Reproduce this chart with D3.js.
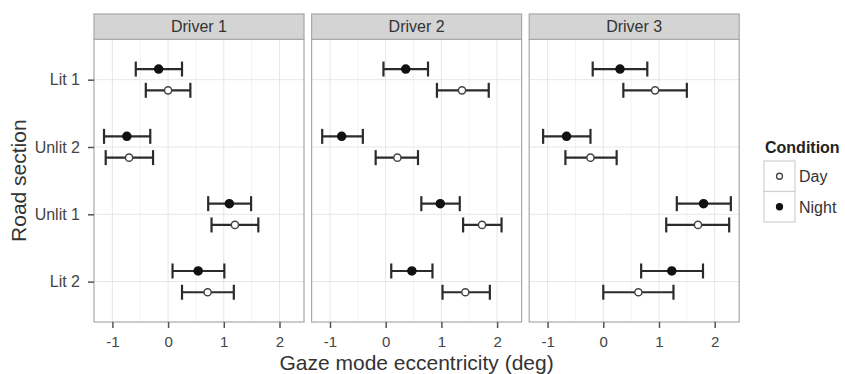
<!DOCTYPE html>
<html>
<head>
<meta charset="utf-8">
<script src="https://cdn.jsdelivr.net/npm/d3@7"></script>
<style>
  body { margin: 0; background: #fff; }
  text { font-family: "Liberation Sans", Arial, Helvetica, sans-serif; }
</style>
</head>
<body>
<svg id="chart" width="845" height="374"></svg>
<script>
// Facets, categories and legend
const drivers = ["Driver 1", "Driver 2", "Driver 3"];
const sections = ["Lit 1", "Unlit 2", "Unlit 1", "Lit 2"];
const conditions = ["Day", "Night"];
const xTicks = [-1, 0, 1, 2];

// Day values per driver, in section order
const dayMean = [[0.00, -0.70, 1.20, 0.71], [1.37, 0.21, 1.73, 1.43], [0.93, -0.23, 1.70, 0.63]];
const dayLow  = [[-0.40, -1.12, 0.78, 0.25], [0.92, -0.18, 1.39, 1.02], [0.36, -0.68, 1.13, 0.00]];
const dayHigh = [[0.40, -0.27, 1.62, 1.18], [1.85, 0.58, 2.08, 1.87], [1.50, 0.24, 2.26, 1.26]];

// Night values per driver
const nightMean = [[-0.17, -0.74, 1.10, 0.54], [0.36, -0.79, 0.98, 0.47], [0.30, -0.66, 1.80, 1.23]];
const nightLow  = [[-0.58, -1.15, 0.72, 0.08], [-0.04, -1.14, 0.64, 0.10], [-0.19, -1.08, 1.32, 0.68]];
const nightHigh = [[0.25, -0.32, 1.49, 1.01], [0.76, -0.41, 1.33, 0.84], [0.79, -0.23, 2.29, 1.79]];

// Build long table
const rows = [];
drivers.forEach((drv, di) => {
    sections.forEach((sec, si) => {
        rows.push({ driver: di, section: sec, condition: "Day", mean: dayMean[di][si], lo: dayLow[di][si], hi: dayHigh[di][si] });
        rows.push({ driver: di, section: sec, condition: "Night", mean: nightMean[di][si], lo: nightLow[di][si], hi: nightHigh[di][si] });
    });
});

// Layout
const size = {
    panelLeft: 94,
    panelW: 210,
    gap: 7.6,
    stripTop: 14,
    stripH: 25.3,
    panelBottom: 322
};
const panelTop = size.stripTop + size.stripH;

const svg = d3.select("#chart");

const x = d3.scaleLinear().domain([-1.33, 2.44]).range([0, size.panelW]);
const y = d3.scalePoint().domain(sections).range([panelTop, size.panelBottom]).padding(0.6);
const dodge = y.step() * 0.158;
const offset = { Night: -dodge, Day: dodge };
const capH = 7.5;
const barColor = "#2b2b2b";

drivers.forEach((drv, di) => {
    const left = size.panelLeft + di * (size.panelW + size.gap);
    const g = svg.append("g").attr("transform", `translate(${left},0)`);

    // minor grid
    const minor = d3.range(-1.5, 2.6, 1).filter(v => v > x.domain()[0] && v < x.domain()[1]);
    g.selectAll(".minor").data(minor).enter().append("line")
        .attr("x1", d => x(d)).attr("x2", d => x(d))
        .attr("y1", panelTop).attr("y2", size.panelBottom)
        .attr("stroke", "#f2f2f2").attr("stroke-width", 1);

    // major grid
    g.selectAll(".majorx").data(xTicks).enter().append("line")
        .attr("x1", d => x(d)).attr("x2", d => x(d))
        .attr("y1", panelTop).attr("y2", size.panelBottom)
        .attr("stroke", "#e6e6e6").attr("stroke-width", 1);
    g.selectAll(".majory").data(sections).enter().append("line")
        .attr("x1", 0).attr("x2", size.panelW)
        .attr("y1", d => y(d)).attr("y2", d => y(d))
        .attr("stroke", "#e6e6e6").attr("stroke-width", 1);

    // error bars
    const data = rows.filter(r => r.driver === di);
    const bars = g.selectAll(".bar").data(data).enter().append("g")
        .attr("transform", d => `translate(0,${y(d.section) + offset[d.condition]})`);
    bars.append("line")
        .attr("x1", d => x(d.lo)).attr("x2", d => x(d.hi))
        .attr("y1", 0).attr("y2", 0)
        .attr("stroke", barColor).attr("stroke-width", 2.2);
    bars.append("line")
        .attr("x1", d => x(d.lo)).attr("x2", d => x(d.lo))
        .attr("y1", -capH).attr("y2", capH)
        .attr("stroke", barColor).attr("stroke-width", 2.2);
    bars.append("line")
        .attr("x1", d => x(d.hi)).attr("x2", d => x(d.hi))
        .attr("y1", -capH).attr("y2", capH)
        .attr("stroke", barColor).attr("stroke-width", 2.2);
    bars.append("circle")
        .attr("cx", d => x(d.mean)).attr("cy", 0)
        .attr("r", d => d.condition === "Night" ? 4 : 3.6)
        .attr("fill", d => d.condition === "Night" ? "#111" : "#fff")
        .attr("stroke", d => d.condition === "Night" ? "#111" : "#444")
        .attr("stroke-width", 1.5);

    // panel border
    g.append("rect")
        .attr("x", 0).attr("y", panelTop)
        .attr("width", size.panelW).attr("height", size.panelBottom - panelTop)
        .attr("fill", "none").attr("stroke", "#a8a8a8").attr("stroke-width", 1.2);

    // strip
    g.append("rect")
        .attr("x", 0).attr("y", size.stripTop)
        .attr("width", size.panelW).attr("height", size.stripH)
        .attr("fill", "#d4d4d4").attr("stroke", "#a8a8a8").attr("stroke-width", 1.2);
    g.append("text")
        .attr("x", size.panelW / 2).attr("y", size.stripTop + size.stripH / 2 + 5.5)
        .attr("text-anchor", "middle")
        .attr("font-size", 16).attr("fill", "#333")
        .text(drv);

    // x axis
    const xAxis = g.append("g")
        .attr("transform", `translate(0,${size.panelBottom})`)
        .call(d3.axisBottom(x).tickValues(xTicks).tickSize(6).tickPadding(8).tickFormat(d3.format("d")));
    xAxis.select(".domain").remove();
    xAxis.selectAll("line").attr("stroke", "#555").attr("stroke-width", 1.5);
    xAxis.selectAll("text")
        .attr("font-size", 15).attr("fill", "#444")
        .text(d => d < 0 ? "-" + Math.abs(d) : d);
});

// y axis
const yAxis = svg.append("g")
    .attr("transform", `translate(${size.panelLeft},0)`)
    .call(d3.axisLeft(y).tickSize(6).tickPadding(8));
yAxis.select(".domain").remove();
yAxis.selectAll("line").attr("stroke", "#555").attr("stroke-width", 1.5);
yAxis.selectAll("text").attr("font-size", 16).attr("fill", "#444");

// axis titles
const plotRight = size.panelLeft + 3 * size.panelW + 2 * size.gap;
svg.append("text")
    .attr("x", (size.panelLeft + plotRight) / 2).attr("y", 370)
    .attr("text-anchor", "middle")
    .attr("font-size", 21).attr("fill", "#333")
    .text("Gaze mode eccentricity (deg)");
svg.append("text")
    .attr("transform", `translate(25.5,${(panelTop + size.panelBottom) / 2}) rotate(-90)`)
    .attr("text-anchor", "middle")
    .attr("font-size", 21).attr("fill", "#333")
    .text("Road section");

// legend
const legend = svg.append("g").attr("transform", "translate(764,0)");
legend.append("text")
    .attr("x", 1).attr("y", 152.5)
    .attr("font-size", 16).attr("font-weight", "bold").attr("fill", "#222")
    .text("Condition");
const keyH = 30.5, keyW = 31, keyTop = 161;
const keys = legend.selectAll(".key").data(conditions).enter().append("g")
    .attr("transform", (d, i) => `translate(0,${keyTop + i * keyH})`);
keys.append("rect")
    .attr("width", keyW).attr("height", keyH)
    .attr("fill", "#fff").attr("stroke", "#d0d0d0").attr("stroke-width", 1.2);
keys.append("circle")
    .attr("cx", keyW / 2).attr("cy", keyH / 2)
    .attr("r", 3)
    .attr("fill", d => d === "Night" ? "#111" : "#fff")
    .attr("stroke", d => d === "Night" ? "#111" : "#444")
    .attr("stroke-width", 1.3);
keys.append("text")
    .attr("x", keyW + 4).attr("y", keyH / 2 + 6)
    .attr("font-size", 16).attr("fill", "#333")
    .text(d => d);
</script>
</body>
</html>
